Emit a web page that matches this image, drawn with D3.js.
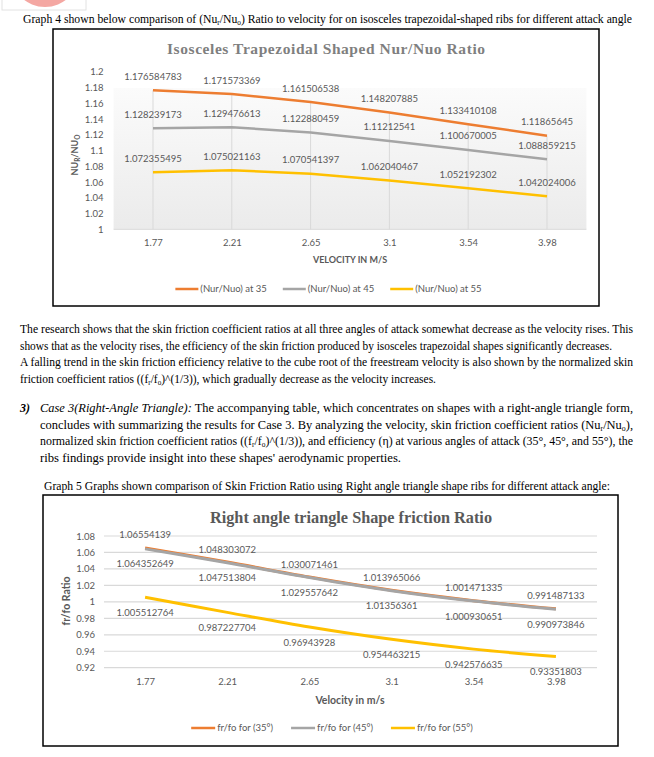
<!DOCTYPE html>
<html>
<head>
<meta charset="utf-8">
<script src="https://cdn.jsdelivr.net/npm/d3@7"></script>
<style>
  body { margin: 0; background: #fff; }
  svg { display: block; }
</style>
</head>
<body>
<div id="page"></div>
<script>
// values
var velocity = ["1.77", "2.21", "2.65", "3.1", "3.54", "3.98"];

var nu35 = [1.176584783, 1.171573369, 1.161506538, 1.148207885, 1.133410108, 1.11865645];
var nu45 = [1.128239173, 1.129476613, 1.122880459, 1.11212541, 1.100670005, 1.088859215];
var nu55 = [1.072355495, 1.075021163, 1.070541397, 1.062040467, 1.052192302, 1.042024006];
var nuTicks = [1, 1.02, 1.04, 1.06, 1.08, 1.1, 1.12, 1.14, 1.16, 1.18, 1.2];
var nuLegend = ["(Nur/Nuo) at 35", "(Nur/Nuo) at 45", "(Nur/Nuo) at 55"];

var fr35 = [1.06554139, 1.048303072, 1.030071461, 1.013965066, 1.001471335, 0.991487133];
var fr45 = [1.064352649, 1.047513804, 1.029557642, 1.01356361, 1.000930651, 0.990973846];
var fr55 = [1.005512764, 0.987227704, 0.96943928, 0.954463215, 0.942576635, 0.93351803];
var frTicks = [0.92, 0.94, 0.96, 0.98, 1, 1.02, 1.04, 1.06, 1.08];
var frLegend = ["fr/fo for (35°)", "fr/fo for (45°)", "fr/fo for (55°)"];

var colors = ["#ED7D31", "#A5A5A5", "#FFC000"];

// page text, split in lines as in the picture ([text, style]; style "s" = subscript, "i" = italic)
var caption4 = [["Graph 4 shown below comparison of (Nu"], ["r", "s"], ["/Nu"], ["o", "s"],
  [") Ratio to velocity for on isosceles trapezoidal-shaped ribs for different attack angle"]];
var para1 = [
  [["The research shows that the skin friction coefficient ratios at all three angles of attack somewhat decrease as the velocity rises. This"]],
  [["shows that as the velocity rises, the efficiency of the skin friction produced by isosceles trapezoidal shapes significantly decreases."]],
  [["A falling trend in the skin friction efficiency relative to the cube root of the freestream velocity is also shown by the normalized skin"]],
  [["friction coefficient ratios ((f"], ["r", "s"], ["/f"], ["o", "s"], [")^(1/3)), which gradually decrease as the velocity increases."]]
];
var para2 = [
  [["Case 3(Right-Angle Triangle):", "i"], [" The accompanying table, which concentrates on shapes with a right-angle triangle form,"]],
  [["concludes with summarizing the results for Case 3. By analyzing the velocity, skin friction coefficient ratios (Nu"], ["r", "s"], ["/Nu"], ["o", "s"], ["),"]],
  [["normalized skin friction coefficient ratios ((f"], ["r", "s"], ["/f"], ["o", "s"], [")^(1/3)), and efficiency (η) at various angles of attack (35°, 45°, and 55°), the"]],
  [["ribs findings provide insight into these shapes' aerodynamic properties."]]
];
var caption5 = [["Graph 5 Graphs shown comparison of Skin Friction Ratio using Right angle triangle shape ribs for different attack angle:"]];

var W = 654, H = 757;
var serif = "'Liberation Serif', 'Times New Roman', serif";
var sans = "Lato, 'Open Sans', sans-serif";
var grey = "#595959";

var svg = d3.select("#page").append("svg")
  .attr("width", W)
  .attr("height", H);

var defs = svg.append("defs");

// logo remnant at the very top
svg.append("rect").attr("x", 2).attr("y", -10).attr("width", 84).attr("height", 20)
  .attr("fill", "none").attr("stroke", "#e2e2e2");
svg.append("circle").attr("cx", 45).attr("cy", -27).attr("r", 34).attr("fill", "#f4a7a2");

// one line of body text, squeezed to the width it has in the picture
function textLine(x, y, width, segs, size) {
  var t = svg.append("text")
    .attr("x", x).attr("y", y)
    .attr("font-family", serif)
    .attr("font-size", size || 12)
    .attr("fill", "#000");
  var shifted = false;
  segs.forEach(function(s) {
    var sp = t.append("tspan").text(s[0]);
    if (s[1] == "s") {
      sp.attr("font-size", 7.5).attr("dy", 2);
      shifted = true;
    } else {
      if (shifted) { sp.attr("dy", -2); shifted = false; }
      if (s[1] == "i") sp.attr("font-style", "italic");
    }
  });
  if (width) t.attr("textLength", width).attr("lengthAdjust", "spacingAndGlyphs");
  return t;
}

textLine(23, 23, 609, caption4);

var p1y = [333, 349.5, 366, 382.5];
var p1w = [613, 592, 613, 416];
para1.forEach(function(l, i) { textLine(20, p1y[i], p1w[i], l); });

textLine(20, 412, 0, [["3)", "i"]]).attr("font-weight", "bold");
var p2y = [412, 428.5, 445, 461.5];
var p2w = [593, 593, 593, 361];
para2.forEach(function(l, i) { textLine(40, p2y[i], p2w[i], l); });

textLine(44, 490, 566, caption5);

// ---------- chart 1 : isosceles trapezoidal Nur/Nuo ----------
var c1 = { x: 53, y: 29, w: 546, h: 277 };
var g1 = svg.append("g");
g1.append("rect").attr("x", c1.x).attr("y", c1.y).attr("width", c1.w).attr("height", c1.h)
  .attr("fill", "#fff").attr("stroke", "#000").attr("stroke-width", 1.5);

var x1 = d3.scalePoint().domain(velocity).range([113.6, 586.4]).padding(0.5);
var y1 = d3.scaleLinear().domain([1, 1.2]).range([229.3, 71.7]);

var grad = defs.append("linearGradient").attr("id", "plotfill")
  .attr("x1", 0).attr("y1", 0).attr("x2", 0).attr("y2", 1);
grad.append("stop").attr("offset", "0%").attr("stop-color", "#fbfbfb");
grad.append("stop").attr("offset", "100%").attr("stop-color", "#ebebeb");

g1.append("rect")
  .attr("x", 113.6).attr("y", 88)
  .attr("width", 586.4 - 113.6).attr("height", y1(1) - 88)
  .attr("fill", "url(#plotfill)");

// drop lines from the top series
g1.selectAll(".drop").data(velocity).enter().append("line")
  .attr("x1", function(d) { return x1(d); })
  .attr("x2", function(d) { return x1(d); })
  .attr("y1", function(d, i) { return y1(nu35[i]); })
  .attr("y2", y1(1))
  .attr("stroke", "#d9d9d9").attr("stroke-width", 1);

g1.append("line").attr("x1", 113.6).attr("x2", 586.4)
  .attr("y1", y1(1)).attr("y2", y1(1))
  .attr("stroke", "#d9d9d9").attr("stroke-width", 1);

var yAxis1 = g1.append("g").attr("transform", "translate(113.6,0)")
  .call(d3.axisLeft(y1).tickValues(nuTicks).tickSize(0).tickPadding(10)
    .tickFormat(function(d) { return String(+d.toFixed(2)); }));
yAxis1.select(".domain").remove();
yAxis1.selectAll("text").attr("font-family", sans).attr("font-size", 9.5).attr("fill", grey);

var xAxis1 = g1.append("g").attr("transform", "translate(0," + y1(1) + ")")
  .call(d3.axisBottom(x1).tickSize(0).tickPadding(10));
xAxis1.select(".domain").remove();
xAxis1.selectAll("text").attr("font-family", sans).attr("font-size", 9.5).attr("fill", grey);

g1.append("text").attr("x", 350).attr("y", 262.5).attr("text-anchor", "middle")
  .attr("font-family", sans).attr("font-size", 9).attr("font-weight", "bold").attr("fill", grey)
  .text("VELOCITY IN M/S");

var yt1 = g1.append("text").attr("transform", "translate(78,155) rotate(-90)")
  .attr("text-anchor", "middle")
  .attr("font-family", sans).attr("font-size", 9).attr("font-weight", "bold").attr("fill", grey);
yt1.append("tspan").text("NU");
yt1.append("tspan").text("R").attr("font-size", 6.5).attr("dy", 2);
yt1.append("tspan").text("/NU").attr("dy", -2);
yt1.append("tspan").text("O").attr("font-size", 6.5).attr("dy", 2);

g1.append("text").attr("x", 326).attr("y", 54).attr("text-anchor", "middle")
  .attr("font-family", serif).attr("font-size", 15.5).attr("font-weight", "bold").attr("fill", "#7f7f7f")
  .attr("textLength", 318).attr("lengthAdjust", "spacing")
  .text("Isosceles Trapezoidal Shaped Nur/Nuo Ratio");

var line1 = d3.line()
  .x(function(d, i) { return x1(velocity[i]); })
  .y(function(d) { return y1(d); });

[nu35, nu45, nu55].forEach(function(s, k) {
  g1.append("path").datum(s)
    .attr("d", line1)
    .attr("fill", "none").attr("stroke", colors[k]).attr("stroke-width", 2.5);
  g1.selectAll(".lab" + k).data(s).enter().append("text")
    .attr("x", function(d, i) { return x1(velocity[i]); })
    .attr("y", function(d) { return y1(d) - 10.5; })
    .attr("text-anchor", "middle")
    .attr("font-family", sans).attr("font-size", 9.5).attr("fill", grey)
    .text(function(d) { return String(d); });
});

function legend(g, items, cx, cy, swatch, gap) {
  var lg = g.append("g");
  var xpos = 0;
  items.forEach(function(name, k) {
    var it = lg.append("g").attr("transform", "translate(" + xpos + ",0)");
    it.append("line").attr("x1", 0).attr("x2", swatch).attr("y1", cy).attr("y2", cy)
      .attr("stroke", colors[k]).attr("stroke-width", 2.5);
    var t = it.append("text").attr("x", swatch + 2).attr("y", cy + 3.3)
      .attr("font-family", sans).attr("font-size", 9.5).attr("fill", grey).text(name);
    xpos += swatch + 2 + t.node().getComputedTextLength() + gap;
  });
  var total = xpos - gap;
  lg.attr("transform", "translate(" + (cx - total / 2) + ",0)");
}

legend(g1, nuLegend, 328.5, 289, 23, 16);

// ---------- chart 2 : right angle triangle fr/fo ----------
var c2 = { x: 43, y: 495, w: 575, h: 251 };
var g2 = svg.append("g");
g2.append("rect").attr("x", c2.x).attr("y", c2.y).attr("width", c2.w).attr("height", c2.h)
  .attr("fill", "#fff").attr("stroke", "#000").attr("stroke-width", 1.5);

var x2 = d3.scalePoint().domain(velocity).range([104, 597]).padding(0.5);
var y2 = d3.scaleLinear().domain([0.92, 1.08]).range([667.7, 536]);

g2.selectAll(".grid").data(frTicks).enter().append("line")
  .attr("x1", 104).attr("x2", 597)
  .attr("y1", function(d) { return y2(d); })
  .attr("y2", function(d) { return y2(d); })
  .attr("stroke", "#d9d9d9").attr("stroke-width", 1.2);

var yAxis2 = g2.append("g").attr("transform", "translate(104,0)")
  .call(d3.axisLeft(y2).tickValues(frTicks).tickSize(0).tickPadding(9)
    .tickFormat(function(d) { return String(+d.toFixed(2)); }));
yAxis2.select(".domain").remove();
yAxis2.selectAll("text").attr("font-family", sans).attr("font-size", 9.5).attr("fill", grey);

var xAxis2 = g2.append("g").attr("transform", "translate(0," + y2(0.92) + ")")
  .call(d3.axisBottom(x2).tickSize(0).tickPadding(11));
xAxis2.select(".domain").remove();
xAxis2.selectAll("text").attr("font-family", sans).attr("font-size", 9.5).attr("fill", grey);

g2.append("text").attr("x", 350).attr("y", 704).attr("text-anchor", "middle")
  .attr("font-family", sans).attr("font-size", 10.5).attr("font-weight", "bold").attr("fill", grey)
  .text("Velocity in m/s");

g2.append("text").attr("transform", "translate(69.5,601) rotate(-90)")
  .attr("text-anchor", "middle")
  .attr("font-family", sans).attr("font-size", 10.5).attr("font-weight", "bold").attr("fill", grey)
  .text("fr/fo Ratio");

g2.append("text").attr("x", 351).attr("y", 523).attr("text-anchor", "middle")
  .attr("font-family", serif).attr("font-size", 16).attr("font-weight", "bold").attr("fill", grey)
  .attr("textLength", 282).attr("lengthAdjust", "spacingAndGlyphs")
  .text("Right angle triangle Shape friction Ratio");

var line2 = d3.line()
  .x(function(d, i) { return x2(velocity[i]); })
  .y(function(d) { return y2(d); })
  .curve(d3.curveCatmullRom.alpha(0.5));

// label offsets: first series above its line, the other two below
var labOff = [-9.5, 18.5, 18.5];
[fr35, fr45, fr55].forEach(function(s, k) {
  g2.append("path").datum(s)
    .attr("d", line2)
    .attr("fill", "none").attr("stroke", colors[k]).attr("stroke-width", 3);
  g2.selectAll(".lab" + k).data(s).enter().append("text")
    .attr("x", function(d, i) { return x2(velocity[i]); })
    .attr("y", function(d) { return y2(d) + labOff[k]; })
    .attr("text-anchor", "middle")
    .attr("font-family", sans).attr("font-size", 9.5).attr("fill", grey)
    .text(function(d) { return String(d); });
});

legend(g2, frLegend, 332, 728, 24, 18);
</script>
</body>
</html>
